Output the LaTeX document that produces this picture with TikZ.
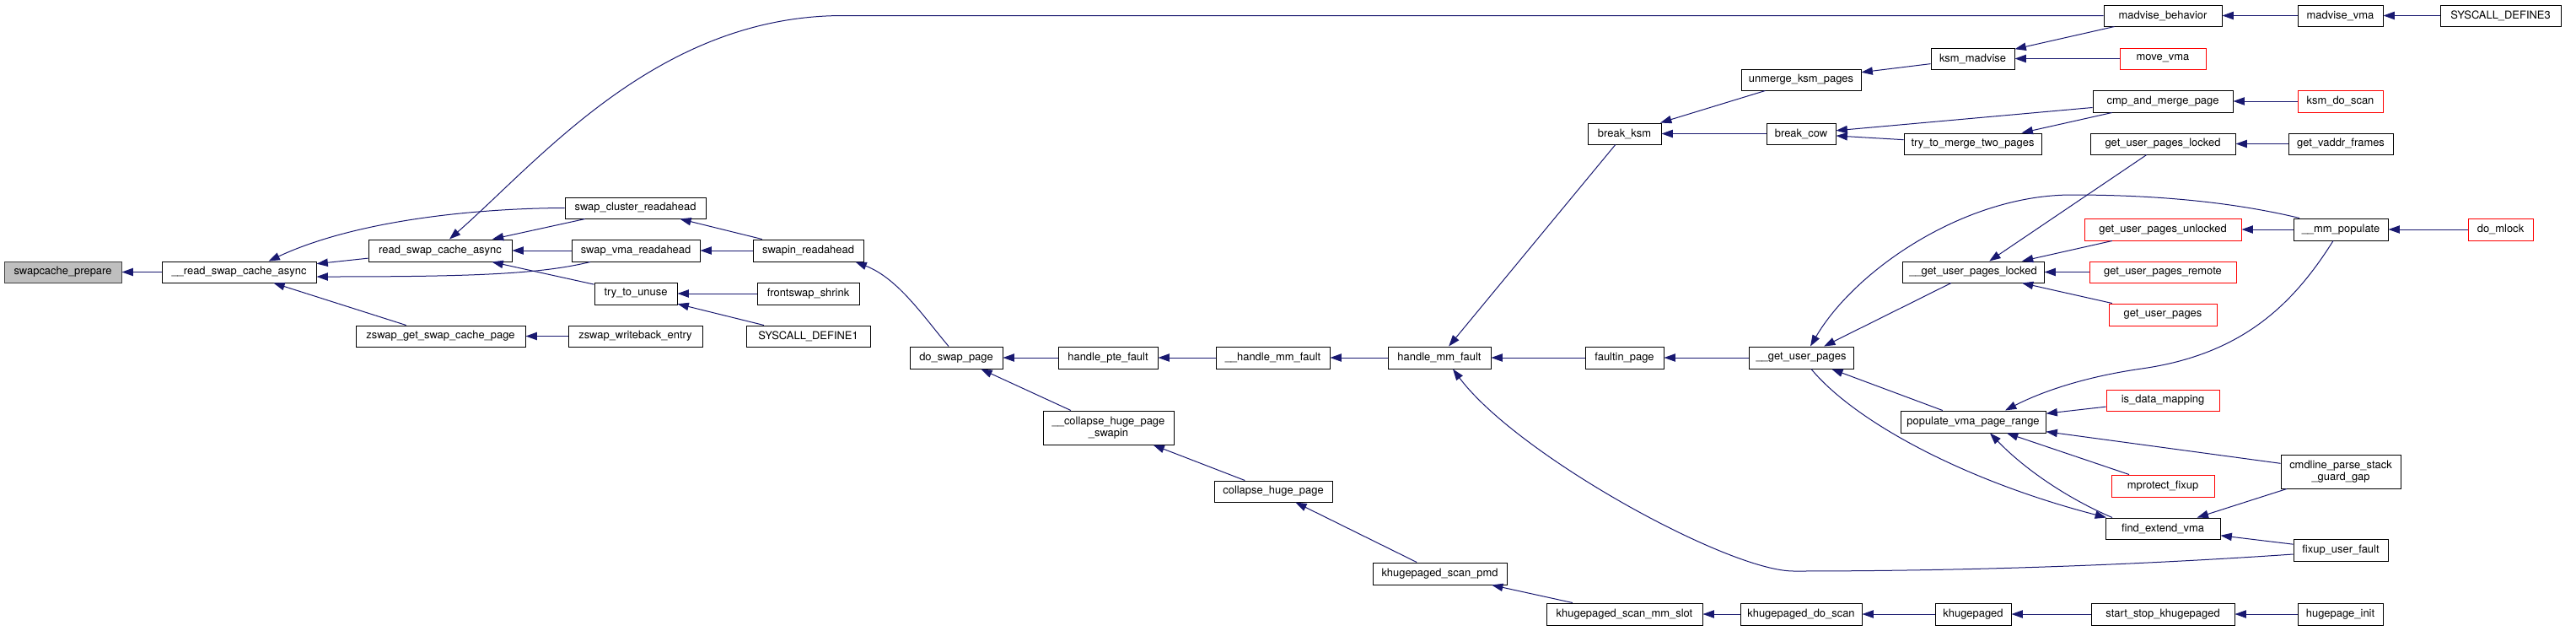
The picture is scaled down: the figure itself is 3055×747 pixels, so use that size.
\documentclass[tikz,border=0pt]{standalone}
\usepackage{fontspec}
\setmainfont{TeX Gyre Heros}
\usetikzlibrary{arrows.meta,calc}
\definecolor{eblue}{HTML}{191970}
\definecolor{rootfill}{HTML}{BFBFBF}
\definecolor{rootdraw}{HTML}{404040}
\tikzset{
  box/.style={draw=black, line width=0.75pt, inner sep=0pt, fill=white,
    font=\fontsize{9.7}{10.5}\selectfont, align=center},
  rootbox/.style={fill=rootfill, draw=rootdraw},
  redbox/.style={draw=red},
  edge/.style={draw=eblue, line width=0.75pt, -{Triangle[length=10pt,width=7pt]}}
}
\newcommand\nd[7][]{\node[box,#1,minimum width={(#5-#3)*0.75pt},minimum height={(#6-#4)*0.75pt}] (#2) at ({(#3+#5)/2},{(#4+#6)/2}) {#7};}
\begin{document}
\begin{tikzpicture}[x=0.75pt,y=-0.75pt]
\useasboundingbox (0,0) rectangle (3055,747);
% nodes
\nd[rootbox]{sp}{5}{310}{144}{335}{swapcache\_prepare}
\nd{arsca}{192}{310}{375}{335}{\_\_read\_swap\_cache\_async}
\nd{rsca}{437}{284}{607}{310}{read\_swap\_cache\_async}
\nd{zgscp}{422}{386}{623}{411}{zswap\_get\_swap\_cache\_page}
\nd{swc}{670}{234}{837}{259}{swap\_cluster\_readahead}
\nd{svr}{678}{284}{830}{310}{swap\_vma\_readahead}
\nd{ttu}{705}{335}{803}{361}{try\_to\_unuse}
\nd{zwe}{674}{386}{833}{411}{zswap\_writeback\_entry}
\nd{sra}{893}{284}{1024}{310}{swapin\_readahead}
\nd{fss}{898}{335}{1019}{361}{frontswap\_shrink}
\nd{sd1}{885}{386}{1032}{411}{SYSCALL\_DEFINE1}
\nd{dsp}{1079}{411}{1189}{437}{do\_swap\_page}
\nd{hpf}{1255}{411}{1373}{437}{handle\_pte\_fault}
\nd{chps}{1237}{487}{1392}{527}{\_\_collapse\_huge\_page\\\_swapin}
\nd{hmf2}{1442}{411}{1577}{437}{\_\_handle\_mm\_fault}
\nd{chp}{1440}{570}{1580}{595}{collapse\_huge\_page}
\nd{hmf}{1646}{411}{1768}{437}{handle\_mm\_fault}
\nd{ksp}{1628}{667}{1787}{693}{khugepaged\_scan\_pmd}
\nd{fp}{1880}{411}{1973}{437}{faultin\_page}
\nd{ksms}{1834}{715}{2019}{741}{khugepaged\_scan\_mm\_slot}
\nd{bk}{1883}{146}{1970}{171}{break\_ksm}
\nd{ukp}{2065}{82}{2207}{107}{unmerge\_ksm\_pages}
\nd{km}{2290}{57}{2389}{82}{ksm\_madvise}
\nd{bc}{2095}{146}{2177}{171}{break\_cow}
\nd{ttm}{2258}{158}{2421}{183}{try\_to\_merge\_two\_pages}
\nd{gup}{2074}{411}{2198}{437}{\_\_get\_user\_pages}
\nd{gupl2}{2256}{310}{2424}{335}{\_\_get\_user\_pages\_locked}
\nd{pvpr}{2254}{487}{2426}{513}{populate\_vma\_page\_range}
\nd{kds}{2064}{715}{2208}{741}{khugepaged\_do\_scan}
\nd{kd}{2295}{715}{2385}{741}{khugepaged}
\nd{mb}{2495}{6}{2635}{31}{madvise\_behavior}
\nd[redbox]{mv}{2514}{57}{2616}{82}{move\_vma}
\nd{cmp}{2482}{107}{2648}{133}{cmp\_and\_merge\_page}
\nd{gupl}{2479}{158}{2651}{183}{get\_user\_pages\_locked}
\nd[redbox]{gupu}{2472}{259}{2658}{285}{get\_user\_pages\_unlocked}
\nd[redbox]{gupr}{2478}{310}{2652}{335}{get\_user\_pages\_remote}
\nd[redbox]{gupg}{2501}{360}{2629}{386}{get\_user\_pages}
\nd[redbox]{idm}{2498}{462}{2632}{487}{is\_data\_mapping}
\nd[redbox]{mpf}{2504}{563}{2626}{589}{mprotect\_fixup}
\nd{fev}{2497}{614}{2633}{639}{find\_extend\_vma}
\nd{ssk}{2480}{715}{2650}{741}{start\_stop\_khugepaged}
\nd{mvma}{2725}{6}{2826}{31}{madvise\_vma}
\nd{sd3}{2894}{6}{3037}{31}{SYSCALL\_DEFINE3}
\nd[redbox]{kdsn}{2725}{107}{2826}{133}{ksm\_do\_scan}
\nd{gvf}{2714}{158}{2838}{183}{get\_vaddr\_frames}
\nd{mmp}{2720}{259}{2832}{285}{\_\_mm\_populate}
\nd[redbox]{dml}{2927}{259}{3004}{285}{do\_mlock}
\nd{cpsg}{2705}{539}{2847}{579}{cmdline\_parse\_stack\\\_guard\_gap}
\nd{fuf}{2720}{639}{2832}{665}{fixup\_user\_fault}
\nd{hpi}{2725}{715}{2826}{741}{hugepage\_init}
% straight edges (caller -- callee)
\foreach \a/\b in {arsca/sp, rsca/arsca, zgscp/arsca, swc/rsca, svr/rsca, ttu/rsca,
  zwe/zgscp, sra/swc, sra/svr, fss/ttu, sd1/ttu, hpf/dsp, chps/dsp, hmf2/hpf,
  chp/chps, hmf/hmf2, ksp/chp, ksms/ksp, bk/hmf, fp/hmf, kds/ksms, ukp/bk, bc/bk,
  km/ukp, cmp/bc, ttm/bc, cmp/ttm, mb/km, mv/km, mvma/mb, sd3/mvma, kdsn/cmp,
  gvf/gupl, gupl/gupl2, gupu/gupl2, gupr/gupl2, gupg/gupl2, mmp/gupu, dml/mmp,
  gupl2/gup, gup/fp, pvpr/gup, idm/pvpr, cpsg/pvpr, mpf/pvpr, cpsg/fev, fuf/fev,
  kd/kds, ssk/kd, hpi/ssk}
  \draw[edge] (\a) -- (\b);
% curved edges
\draw[edge] (mb.west) -- (1000,18.5) .. controls (780,18.5) and (640,190) .. ($(rsca.north)+(11,0)$);
\draw[edge] (swc.west) .. controls (560,247) and (420,262) .. ($(arsca.north)+(35,0)$);
\draw[edge] ($(svr.south)+(-54,0)$) .. controls (640,325) and (560,328) .. ($(arsca.east)+(0,5.5)$);
\draw[edge] ($(dsp.north)+(-9,0)$) .. controls (1095,375) and (1065,330) .. ($(sra.south)+(56,0)$);
\draw[edge] ($(fuf.west)+(0,5)$) .. controls (2500,672) and (2300,677) .. (2127,677) .. controls (2050,677) and (1800,540) .. ($(hmf.south)+(16,0)$);
\draw[edge] ($(mmp.north)+(-49,0)$) .. controls (2650,240) and (2560,231) .. (2457,231) .. controls (2330,231) and (2200,320) .. ($(gup.north)+(11,0)$);
\draw[edge] ($(mmp.south)+(-9,0)$) .. controls (2720,360) and (2660,420) .. (2540,437) .. controls (2470,447) and (2420,465) .. ($(pvpr.north)+(38,0)$);
\draw[edge] ($(fev.north)+(-60,0)$) .. controls (2450,590) and (2400,555) .. ($(pvpr.south)+(20,0)$);
\draw[edge] ($(gup.south)+(12,0)$) .. controls (2200,500) and (2330,570) .. ($(fev.north)+(-67,0)$);
\end{tikzpicture}
\end{document}
